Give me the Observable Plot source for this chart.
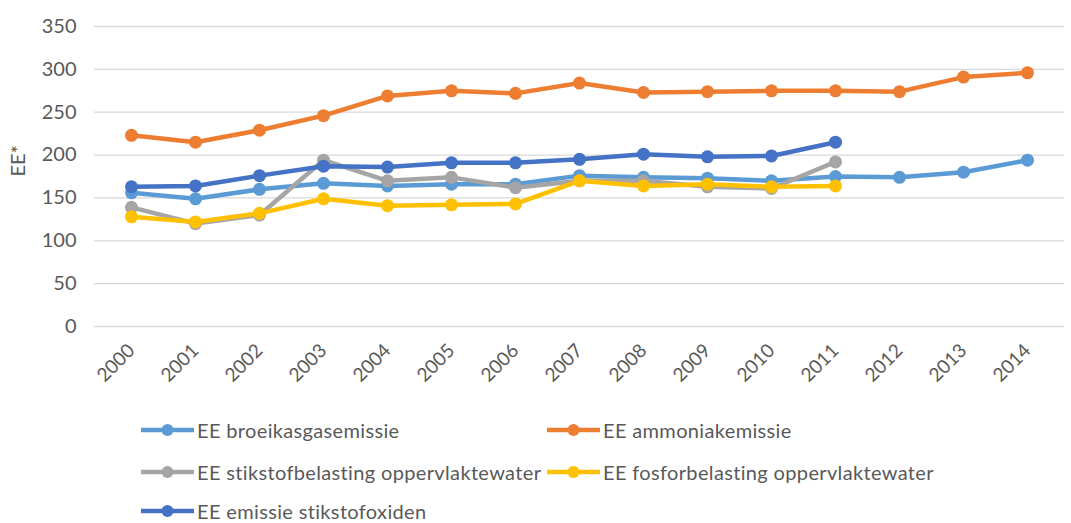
<!DOCTYPE html>
<html>
<head>
<meta charset="utf-8">
<script src="https://cdn.jsdelivr.net/npm/d3@7"></script>
<script src="https://cdn.jsdelivr.net/npm/@observablehq/plot@0.6"></script>
<style>
  body { margin: 0; background: #fff; font-family: Lato, "Open Sans", sans-serif; }
  #wrap { position: relative; width: 1071px; height: 523px; overflow: hidden; }
  .item { position: absolute; display: flex; align-items: center; font-size: 20px; line-height: 20px; letter-spacing: 0.35px; color: #595959; white-space: nowrap; }
  .item svg { display: block; margin-right: 3px; }
</style>
</head>
<body>
<div id="wrap"></div>
<script>
const years = [2000,2001,2002,2003,2004,2005,2006,2007,2008,2009,2010,2011,2012,2013,2014];
const seriesNames = [
  "EE broeikasgasemissie",
  "EE ammoniakemissie",
  "EE stikstofbelasting oppervlaktewater",
  "EE fosforbelasting oppervlaktewater",
  "EE emissie stikstofoxiden"
];
const colors = ["#5B9BD5", "#ED7D31", "#A5A5A5", "#FFC000", "#4472C4"];
const broeikas = [156,149,160,167,164,166,166,176,174,173,170,175,174,180,194];
const ammoniak = [223,215,229,246,269,275,272,284,273,274,275,275,274,291,296];
const stikstof = [139,120,130,194,170,174,162,170,170,163,161,192];
const fosfor   = [128,122,132,149,141,142,143,170,164,166,163,164];
const nox      = [163,164,176,187,186,191,191,195,201,198,199,215];
const yTicks = [0,50,100,150,200,250,300,350];

const allSeries = [broeikas, ammoniak, stikstof, fosfor, nox];
const rows = [];
allSeries.forEach((vals, i) => vals.forEach((v, j) => rows.push({year: String(years[j]), value: v, series: seriesNames[i]})));

const marks = [
  Plot.gridY(yTicks, {stroke: "#D9D9D9", strokeOpacity: 1, strokeWidth: 1.3}),
  Plot.axisY(yTicks, {tickSize: 0, tickPadding: 18, fontSize: 20, fill: "#595959", label: null}),
  Plot.axisX({tickSize: 0, tickRotate: -45, tickPadding: 21, fontSize: 19, fill: "#595959", label: null}),
  Plot.text(["EE*"], {frameAnchor: "left", dx: -76, rotate: -90, fontSize: 20, fill: "#595959"})
];
seriesNames.forEach((name, i) => {
  const d = rows.filter(r => r.series === name);
  marks.push(Plot.line(d, {x: "year", y: "value", stroke: colors[i], strokeWidth: 4.5}));
  marks.push(Plot.dot(d, {x: "year", y: "value", fill: colors[i], r: 6.5}));
});

const chart = Plot.plot({
  width: 1071,
  height: 390,
  marginLeft: 94,
  marginRight: 7,
  marginTop: 26,
  marginBottom: 64,
  style: {fontFamily: "Lato, 'Open Sans', sans-serif", background: "#fff", overflow: "visible"},
  x: {type: "point", domain: years.map(String), padding: 0.5},
  y: {domain: [0, 350], range: [326, 26]},
  marks
});
const wrap = document.getElementById("wrap");
wrap.appendChild(chart);

const positions = [[141,430],[547,430],[141,472],[547,472],[141,511]];
seriesNames.forEach((name, i) => {
  const div = document.createElement("div");
  div.className = "item";
  div.style.left = positions[i][0] + "px";
  div.style.top = (positions[i][1] - 10) + "px";
  div.style.height = "20px";
  div.innerHTML = `<svg width="53" height="16"><line x1="0" y1="8" x2="53" y2="8" stroke="${colors[i]}" stroke-width="4.5" stroke-linecap="round"/><circle cx="26.5" cy="8" r="6" fill="${colors[i]}"/></svg><span>${name}</span>`;
  wrap.appendChild(div);
});
</script>
</body>
</html>
